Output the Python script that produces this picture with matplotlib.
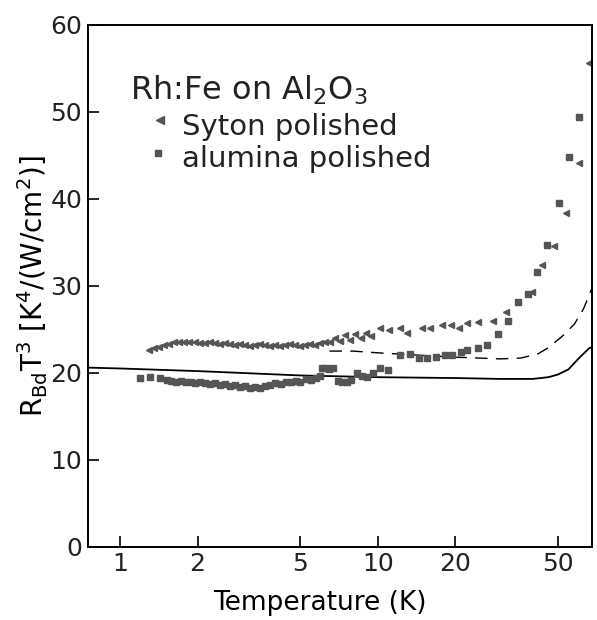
# Rh:Fe on Al2O3 - boundary resistance times T^3
import matplotlib
matplotlib.use('Agg')
import matplotlib.pyplot as plt
from matplotlib.ticker import FixedLocator, NullLocator

# Syton polished (triangles)
syton_T = [1.30, 1.36, 1.42, 1.48, 1.55, 1.62, 1.70, 1.78, 1.86, 1.95,
           2.04, 2.13, 2.23, 2.33, 2.44, 2.55, 2.67, 2.79, 2.92, 3.05,
           3.19, 3.34, 3.49, 3.65, 3.82, 4.00, 4.18, 4.37, 4.57, 4.78,
           5.00, 5.23, 5.47, 5.72, 5.98, 6.25, 6.54, 6.84, 7.15, 7.48,
           7.82, 8.2, 8.6, 9.0, 9.4, 10.2, 11.1, 12.2, 13.0, 14.8,
           15.9, 17.7, 19.3, 20.7, 22.3, 24.4, 27.9, 31.6, 39.6, 43.6,
           48.4, 54.0, 60.5, 66.0]
syton_R = [22.6, 22.8, 23.0, 23.2, 23.3, 23.5, 23.6, 23.5, 23.6, 23.5,
           23.4, 23.4, 23.5, 23.4, 23.3, 23.4, 23.3, 23.2, 23.3, 23.2,
           23.1, 23.2, 23.3, 23.2, 23.1, 23.2, 23.1, 23.2, 23.3, 23.2,
           23.1, 23.2, 23.3, 23.2, 23.4, 23.5, 23.6, 24.0, 23.7, 24.3,
           23.8, 24.5, 24.0, 24.6, 24.2, 25.1, 24.9, 25.1, 24.6, 25.1,
           25.1, 25.5, 25.5, 25.1, 25.7, 25.8, 26.0, 27.0, 29.3, 32.4,
           34.6, 38.4, 44.1, 55.6]

# alumina polished (squares)
alumina_T = [1.20, 1.31, 1.43, 1.52, 1.58, 1.65, 1.72, 1.80, 1.88, 1.96,
             2.05, 2.14, 2.24, 2.34, 2.45, 2.56, 2.68, 2.80, 2.93, 3.06,
             3.20, 3.35, 3.50, 3.66, 3.83, 4.00, 4.20, 4.40, 4.60, 4.80,
             5.00, 5.25, 5.50, 5.75, 6.00, 6.10, 6.30, 6.50, 6.70, 7.00,
             7.30, 7.60, 7.90, 8.30, 8.70, 9.10, 9.60, 10.2, 11.0, 12.2,
             13.3, 14.5, 15.6, 16.9, 18.2, 19.5, 21.1, 22.3, 24.4, 26.5,
             29.2, 31.9, 34.9, 38.2, 41.7, 45.6, 50.6, 55.3, 60.5]
alumina_R = [19.4, 19.5, 19.4, 19.2, 19.1, 19.0, 19.1, 18.9, 19.0, 18.8,
             18.9, 18.8, 18.7, 18.8, 18.6, 18.7, 18.5, 18.6, 18.4, 18.5,
             18.3, 18.4, 18.3, 18.5, 18.6, 18.8, 18.7, 18.9, 19.0, 19.1,
             19.0, 19.3, 19.2, 19.4, 19.6, 20.5, 20.6, 20.4, 20.5, 19.1,
             19.0, 18.9, 19.2, 20.0, 19.6, 19.5, 20.0, 20.6, 20.3, 22.0,
             22.2, 21.7, 21.7, 21.8, 22.0, 22.0, 22.4, 22.6, 22.9, 23.2,
             24.5, 26.0, 28.1, 29.1, 31.6, 34.7, 39.5, 44.8, 49.4]

# theory curves
solid_T = [0.75, 1.0, 2.0, 5.0, 10.0, 20.0, 30.0, 40.0, 46.0, 50.0, 55.0, 60.0, 66.0, 68.0]
solid_R = [20.6, 20.5, 20.2, 19.7, 19.5, 19.4, 19.3, 19.3, 19.5, 19.8, 20.4, 21.6, 22.8, 23.0]
dash_T = [6.5, 8.0, 10.0, 15.0, 20.0, 30.0, 36.0, 42.0, 46.0, 52.0, 58.0, 63.0, 68.0]
dash_R = [22.5, 22.5, 22.3, 22.0, 21.8, 21.6, 21.7, 22.2, 22.9, 24.2, 25.6, 27.4, 29.8]

xticks = [1, 2, 5, 10, 20, 50]
yticks = [0, 10, 20, 30, 40, 50, 60]

plt.rcParams['text.color'] = '#222222'
plt.rcParams['xtick.labelcolor'] = '#222222'
plt.rcParams['ytick.labelcolor'] = '#222222'

fig = plt.figure(figsize=(5.97, 6.2), dpi=100)
ax = fig.add_axes([0.147, 0.118, 0.845, 0.842])

mcol = '#555555'
ax.plot(solid_T, solid_R, color='black', lw=1.3)
ax.plot(dash_T, dash_R, color='black', lw=1.0, dashes=(9, 6))
ax.plot(syton_T, syton_R, ls='none', marker='<', ms=5, color=mcol)
ax.plot(alumina_T, alumina_R, ls='none', marker='s', ms=4.5, color=mcol)

ax.set_xscale('log')
ax.set_xlim(0.75, 68)
ax.set_ylim(0, 60)
ax.xaxis.set_major_locator(FixedLocator(xticks))
ax.xaxis.set_minor_locator(NullLocator())
ax.set_xticklabels([str(t) for t in xticks])
ax.set_yticks(yticks)
ax.tick_params(direction='in', length=8, width=1.2, labelsize=18, pad=4)
for sp in ax.spines.values():
    sp.set_linewidth(1.4)

ax.set_xlabel('Temperature (K)', fontsize=19)
ax.xaxis.set_label_coords(0.46, -0.083)
ax.set_ylabel(r'R$_{\rm Bd}$T$^3$ [K$^4$/(W/cm$^2$)]', fontsize=20, labelpad=0)

ax.text(0.083, 0.856, r'Rh:Fe on Al$_2$O$_3$', transform=ax.transAxes, fontsize=23)
ax.text(0.187, 0.789, 'Syton polished', transform=ax.transAxes, fontsize=21)
ax.text(0.187, 0.727, 'alumina polished', transform=ax.transAxes, fontsize=21)
ax.plot([0.143], [0.818], transform=ax.transAxes, marker='<', ms=6, color=mcol)
ax.plot([0.14], [0.755], transform=ax.transAxes, marker='s', ms=5, color=mcol)

fig.savefig('out.png', dpi=100)
